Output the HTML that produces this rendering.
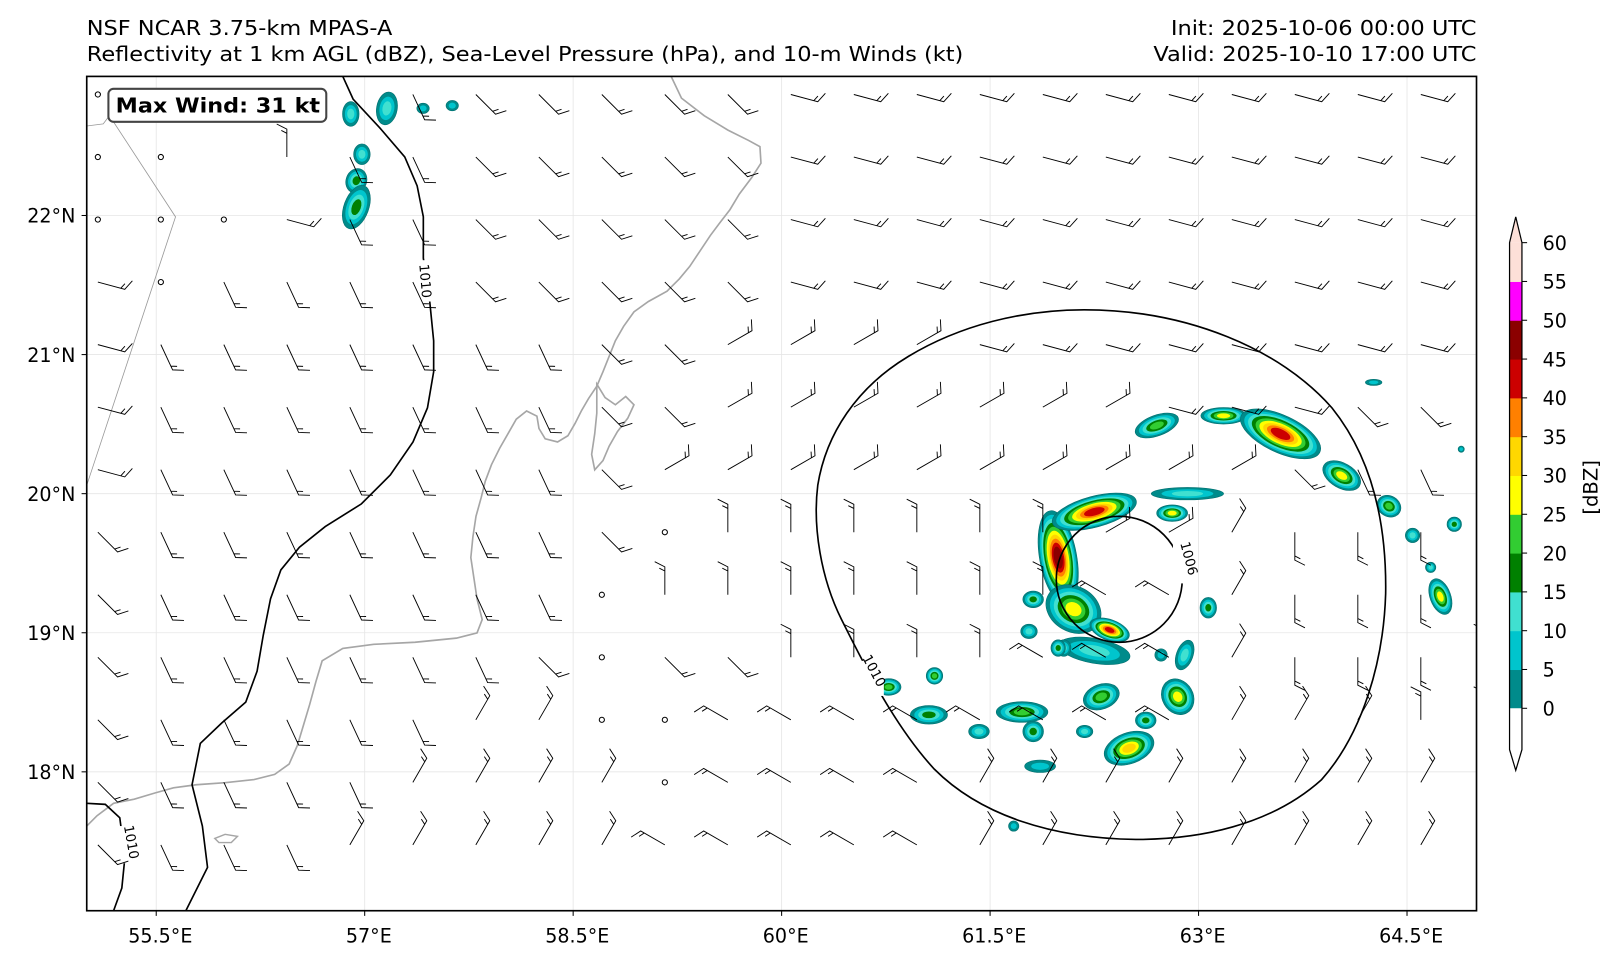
<!DOCTYPE html>
<html><head><meta charset="utf-8"><style>
html,body{margin:0;padding:0;background:#fff;}
svg{display:block;font-family:"DejaVu Sans","Liberation Sans",sans-serif;}
</style></head><body>
<svg id="fig" width="1619" height="964" viewBox="0 0 1568 933.6" preserveAspectRatio="none" xmlns="http://www.w3.org/2000/svg">
<rect width="1568" height="933.6" fill="#fff"/>
<text x="84" y="34" font-size="20" textLength="296" lengthAdjust="spacingAndGlyphs">NSF NCAR 3.75-km MPAS-A</text>
<text x="84" y="59" font-size="20" textLength="849" lengthAdjust="spacingAndGlyphs">Reflectivity at 1 km AGL (dBZ), Sea-Level Pressure (hPa), and 10-m Winds (kt)</text>
<text x="1430" y="34" font-size="20" text-anchor="end" textLength="296" lengthAdjust="spacingAndGlyphs">Init: 2025-10-06 00:00 UTC</text>
<text x="1430" y="59" font-size="20" text-anchor="end" textLength="313" lengthAdjust="spacingAndGlyphs">Valid: 2025-10-10 17:00 UTC</text>
<defs><clipPath id="ax"><rect x="84" y="74" width="1346" height="808"/></clipPath></defs>
<g id="grid"></g>
<g clip-path="url(#ax)">
<g id="refl"></g>
<path d="M84,122 L100,120 L106,112 L170,210 L84,470" fill="none" stroke="#999" stroke-width="0.8"/>
<path fill="none" stroke="#a6a6a6" stroke-width="1.6" d="M650,74 L660,95 L682,112 L705,126 L725,136 L736,142 L737,158 L728,172 L716,188 L707,203 L697,216 L688,228 L678,243 L668,258 L658,270 L646,282 L628,292 L614,302 L604,316 L596,330 L590,345 L584,360 L578,374 L570,386 L563,398 L557,410 L550,422 L540,428 L528,425 L522,415 L520,403 L510,398 L500,406 L492,420 L484,434 L476,450 L470,466 L466,482 L461,500 L458,520 L456,540 L459,560 L462,580 L467,600 L462,613 L442,618 L402,622 L362,624 L332,628 L312,640 L306,660 L300,682 L294,702 L288,722 L280,740 L266,750 L246,755 L218,758 L190,760 L168,763 L150,768 L130,774 L110,778 L94,790 L84,800"/>
<path fill="none" stroke="#a6a6a6" stroke-width="1.6" d="M578,372 L586,385 L596,392 L606,384 L614,392 L608,405 L598,418 L590,432 L584,446 L576,455 L573,440 L576,420 L578,400 Z"/>
<path fill="none" stroke="#a6a6a6" stroke-width="1.4" d="M208,812 L218,808 L230,810 L224,816 L212,816 Z"/>
<g fill="none" stroke="#000" stroke-width="1.6">
<path d="M332,74 L342,96 L368,124 L392,152 L404,180 L410,210 L410,250 L416,290 L420,330 L420,360 L414,395 L400,428 L378,460 L350,488 L315,510 L290,530 L272,552 L262,580 L255,615 L249,650 L238,680 L215,700 L194,720 L186,760 L196,800 L201,840 L180,882"/>
<path d="M84,778 L102,779 L116,792 L121,830 L118,860 L110,882"/>
<path d="M1050,300 C1150,300 1240,338 1290,395 C1330,445 1343,510 1342,575 C1340,640 1320,710 1280,755 C1230,800 1160,813 1100,813 C1020,812 950,790 905,745 C868,705 840,650 815,600 C795,560 787,510 792,470 C800,420 830,375 880,345 C930,315 990,300 1050,300 Z"/>
<circle cx="1084" cy="561" r="61"/>
</g>
<rect x="397" y="252" width="26" height="40" fill="#fff"/>
<text font-size="13" transform="translate(406,256) rotate(85)">1010</text>
<rect x="112" y="800" width="22" height="36" fill="#fff"/>
<text font-size="13" transform="translate(120,800) rotate(80)">1010</text>
<rect x="826" y="640" width="30" height="34" fill="#fff"/>
<text font-size="13" transform="translate(835,637) rotate(62)">1010</text>
<rect x="1136" y="525" width="20" height="40" fill="#fff"/>
<text font-size="13" transform="translate(1143,526) rotate(75)">1006</text>
<g id="barbs"></g>
</g>
<rect x="84" y="74" width="1346" height="808" fill="none" stroke="#000" stroke-width="1.6"/>
<g id="ticks"></g>
<g>
<rect x="105" y="86" width="211" height="32" rx="5" fill="#fff" stroke="#444" stroke-width="2"/>
<text x="112" y="109" font-size="20" font-weight="bold" textLength="198" lengthAdjust="spacingAndGlyphs">Max Wind: 31 kt</text>
</g>
<g id="cbar"></g>
<text font-size="19" text-anchor="middle" transform="translate(1547,472) rotate(-90)">[dBZ]</text>
</svg>
<script>
const NS="http://www.w3.org/2000/svg";
// axis tick values
const lonTicks=[55.5,57,58.5,60,61.5,63,64.5];
const latTicks=[22,21,20,19,18];
// reflectivity levels and colours
const levels=[0,5,10,15,20,25,30,35,40,45,50,55,60];
const levelColors=["#008b8b","#00c5cd","#40e0d0","#008000","#32cd32","#ffff00","#ffd700","#ff8000","#cc0000","#8b0000","#ff00ff","#fde0d8"];
// reflectivity cells: centre lon/lat, peak dBZ
const cellLon=[61.99,62.25,62.10,62.36,62.25,62.81,62.92,62.70,63.18,63.59,64.03,64.37,64.74,64.84,64.54,64.67,63.07,62.85,62.62,62.50,62.30,62.03,61.73,61.81,61.86,61.42,61.06,61.10,60.77,61.78,61.99,62.18,61.81,62.73,62.90,61.67,56.90,57.16,57.42,57.63,56.98,56.94,56.94,64.26,64.89];
const cellLat=[19.54,19.87,19.17,19.02,18.87,19.86,20.00,20.49,20.56,20.43,20.13,19.91,19.26,19.78,19.70,19.47,19.18,18.54,18.37,18.17,18.54,18.89,18.43,18.29,18.04,18.29,18.41,18.69,18.61,19.01,18.89,18.29,19.24,18.84,18.84,17.61,22.73,22.77,22.77,22.79,22.44,22.25,22.06,20.80,20.32];
const cellDbz=[47,42,30,42,12,30,12,25,30,42,30,25,30,18,12,12,18,30,18,32,25,12,25,18,8,12,18,22,22,12,18,12,18,8,12,8,12,12,8,8,12,18,18,8,8];
const cellRx=[18,42,28,20,35,15,35,22,22,42,20,12,10,7,7,5,8,15,10,25,18,7,25,10,15,10,18,8,12,8,7,8,10,6,8,5,8,10,6,6,8,10,12,8,3];
const cellRy=[46,15,22,10,12,8,6,10,8,18,12,10,18,7,7,5,10,18,8,15,12,8,10,10,6,7,9,8,8,7,8,6,8,6,15,5,12,16,5,5,10,12,22,3,3];
const cellRot=[-10,-15,30,20,10,0,0,-20,0,25,30,30,-20,0,0,0,0,-30,0,-20,-20,0,0,0,0,0,0,0,0,0,0,0,0,0,20,0,0,10,0,0,0,20,20,0,0];
// wind barbs: one code per grid point (staff direction class), rows top to bottom
const barbRows=[
"o....cbbbbbaaaaaaaaaaaa",
"oo.eccbbbbbaaaaaaaaaaaa",
"oooaccbbbbbaaaaaaaaaaaa",
"aoccccbbbbbaaaaaaaaaaaa",
"acccccccbbhhhhaaaaaaaaa",
"acccccccbbhhhhhhhaaabbb",
"acccccccbhhhhhhhhhhbccc",
"bcccccccboeeeeeehhfdddd",
"bcccccccoeeeeeeeggfdddd",
"bccccccbobbeeeegggfddde",
"bcccccffooggggggggfffee",
"bccccffffoggggfffffffff",
"bcccfffffgggggfffffffff"];
const barbLon0=55.08, barbDLon=0.4533, barbLat0=22.87, barbDLat=0.4496;
const dirAngle={a:15,b:45,c:65,d:90,e:-90,f:-60,g:210,h:-30};

function lonX(lon){return 84+(lon-55)*134.6;}
function latY(lat){return 74+(23-lat)*134.7;}
function mk(tag,attrs,parent){const e=document.createElementNS(NS,tag);for(const k in attrs)e.setAttribute(k,attrs[k]);parent.appendChild(e);return e;}

const gridG=document.getElementById('grid'),ticksG=document.getElementById('ticks');
lonTicks.forEach(v=>{const x=lonX(v);
 const l=mk('line',{x1:x,x2:x,y1:74,y2:882,stroke:'#e6e6e6','stroke-width':0.8},gridG);
 
 
 const t=mk('line',{x1:x,x2:x,y1:882,y2:887,stroke:'#000','stroke-width':1},ticksG);
 
 
 const tx=mk('text',{x:x+4,y:913,'font-size':18.5,'text-anchor':'middle'},ticksG);tx.textContent=v+'°E';
 
 });
latTicks.forEach(v=>{const y=latY(v);
 const l=mk('line',{x1:84,x2:1430,y1:y,y2:y,stroke:'#e6e6e6','stroke-width':0.8},gridG);
 
 
 const t=mk('line',{x1:79,x2:84,y1:y,y2:y,stroke:'#000','stroke-width':1},ticksG);
 
 
 const tx=mk('text',{x:73,y:y+7,'font-size':18.5,'text-anchor':'end'},ticksG);tx.textContent=v+'°N';
 
 });

const reflG=document.getElementById('refl');
cellLon.forEach((lon,i)=>{const cx=lonX(lon),cy=latY(cellLat[i]);
 let n=0;for(let k=0;k<levelColors.length;k++){if(cellDbz[i]>levels[k])n=k+1;}
 for(let k=0;k<n;k++){const s=1-k/Math.max(n,1)*0.85;
  const e=mk('ellipse',{cx:cx,cy:cy,rx:cellRx[i]*s,ry:cellRy[i]*s,fill:levelColors[k],stroke:k==0?'#007070':'none','stroke-width':0.6,transform:`rotate(${cellRot[i]} ${cx} ${cy})`},reflG);
  
  }});

const barbsG=document.getElementById('barbs');
barbRows.forEach((row,j)=>{[...row].forEach((c,i)=>{
 const x=lonX(barbLon0+i*barbDLon),y=latY(barbLat0-j*barbDLat);
 if(c==='.')return;
 if(c==='o'){const o=mk('circle',{cx:x,cy:y,r:2.5,fill:'none',stroke:'#000','stroke-width':1},barbsG);
  
  return;}
 const a=dirAngle[c]*Math.PI/180,L=27;
 const ex=x+Math.cos(a)*L,ey=y+Math.sin(a)*L;
 const fx=ex+Math.cos(a-1.1)*11,fy=ey+Math.sin(a-1.1)*11;
 const mx=x+Math.cos(a)*(L-4),my=y+Math.sin(a)*(L-4);
 const p=mk('path',{d:`M${x},${y} L${ex},${ey} L${fx},${fy} M${mx},${my} L${mx+Math.cos(a-1.1)*6},${my+Math.sin(a-1.1)*6}`,fill:'none',stroke:'#000','stroke-width':0.9},barbsG);
 
 
});});

const cbG=document.getElementById('cbar');
const cbX=1462,cbW=12,cbTop=235,cbStep=37.58;
levelColors.forEach((col,k)=>{const y=cbTop+(levels.length-2-k)*cbStep;
 const r=mk('rect',{x:cbX,y:y,width:cbW,height:cbStep+0.5,fill:col},cbG);
 
 });
const cbTopTri=mk('path',{d:`M${cbX},${cbTop} L${cbX+cbW/2},210 L${cbX+cbW},${cbTop} Z`,fill:levelColors[levelColors.length-1]},cbG);


const cbBot=cbTop+(levels.length-1)*cbStep;
const cbBotTri=mk('path',{d:`M${cbX},${cbBot} L${cbX},${cbBot+40} L${cbX+cbW/2},746 L${cbX+cbW},${cbBot+40} L${cbX+cbW},${cbBot} Z`,fill:'#fff'},cbG);


const outl=mk('path',{d:`M${cbX},${cbTop} L${cbX+cbW/2},210 L${cbX+cbW},${cbTop} L${cbX+cbW},${cbBot+40} L${cbX+cbW/2},746 L${cbX},${cbBot+40} Z`,fill:'none',stroke:'#000','stroke-width':1.2},cbG);


levels.forEach((v,k)=>{const y=cbTop+(levels.length-1-k)*cbStep;
 const t=mk('line',{x1:cbX+cbW,x2:cbX+cbW+5,y1:y,y2:y,stroke:'#000','stroke-width':1},cbG);
 
 
 const tx=mk('text',{x:1494,y:y+7,'font-size':18.5},cbG);tx.textContent=v;
 
 });
</script>
</body></html>
